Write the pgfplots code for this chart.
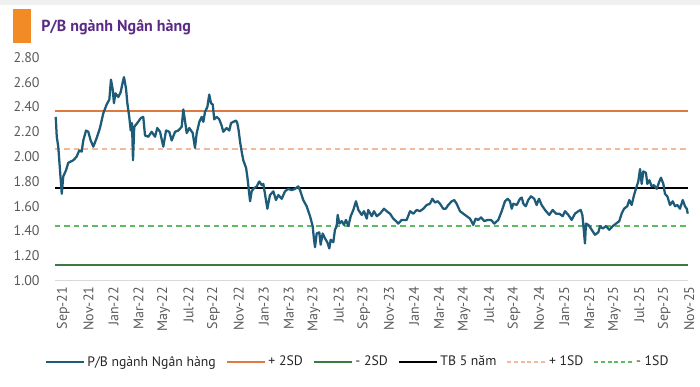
\documentclass[border=0pt]{standalone}
\usepackage{pgfplots}
\pgfplotsset{compat=1.18}
\usepackage{fontspec}
\setmainfont{PT Sans}
\definecolor{series}{HTML}{1D5B79}
\definecolor{ptwo}{HTML}{E0793F}
\definecolor{mtwo}{HTML}{3C7A3F}
\definecolor{pone}{HTML}{F2B99A}
\definecolor{mone}{HTML}{5DBB63}
\definecolor{titlec}{HTML}{5B2A86}
\definecolor{blockc}{HTML}{F28A26}
\definecolor{tickc}{HTML}{595959}
\begin{document}
\begin{tikzpicture}
\useasboundingbox (0,0) rectangle (525pt,289.5pt);
\fill[black!6] (0,285.75pt) rectangle (525pt,289.5pt);
\fill[blockc] (10pt,257.5pt) rectangle (23.25pt,282.5pt);
\node[anchor=base west, inner sep=0pt, text=titlec, font=\fontsize{12}{14}\selectfont\bfseries] at (30.75pt,265.5pt) {P/B ngành Ngân hàng};
\begin{axis}[
  at={(41.25pt,78.975pt)}, anchor=south west,
  width=474.75pt, height=167.55pt, scale only axis,
  xmin=-0.24, xmax=50.32, ymin=1, ymax=2.8,
  xtick={0,2,...,50},
  xticklabels={Sep-21,Nov-21,Jan-22,Mar-22,May-22,Jul-22,Sep-22,Nov-22,Jan-23,Mar-23,May-23,Jul-23,Sep-23,Nov-23,Jan-24,Mar-24,May-24,Jul-24,Sep-24,Nov-24,Jan-25,Mar-25,May-25,Jul-25,Sep-25,Nov-25},
  ytick={1,1.2,...,2.81},
  /pgf/number format/fixed,
  /pgf/number format/fixed zerofill,
  /pgf/number format/precision=2,
  /pgf/number format/assume math mode=true,
  xticklabel style={rotate=90, anchor=east, font=\fontsize{10.5}{12}\selectfont, text=tickc, yshift=-4pt, xshift=-1pt},
  yticklabel style={font=\fontsize{10.5}{12}\selectfont, text=tickc, xshift=-8pt},
  major tick length=0pt,
  separate axis lines,
  axis x line*=bottom, axis y line*=left,
  x axis line style={draw=black!15, line width=0.8pt},
  y axis line style={draw=none},
  legend style={at={(0.478,-0.364)}, anchor=center, legend columns=6, draw=none, fill=none,
    font=\fontsize{10.3}{12}\selectfont, text=black!85,
    nodes={inner sep=1.5pt},
    /tikz/every even column/.append style={column sep=6pt}},
  legend image code/.code={\draw[#1] (0pt,0pt) -- (29pt,0pt);},
  clip=false,
]
\addlegendimage{series, line width=1.5pt}
\addlegendentry{P/B ngành Ngân hàng}
\addlegendimage{ptwo, line width=1.5pt}
\addlegendentry{+ 2SD}
\addlegendimage{mtwo, line width=1.5pt}
\addlegendentry{- 2SD}
\addlegendimage{black, line width=1.5pt}
\addlegendentry{TB 5 năm}
\addlegendimage{pone, line width=1.5pt, dash pattern=on 3pt off 2pt}
\addlegendentry{+ 1SD}
\addlegendimage{mone, line width=1.5pt, dash pattern=on 3pt off 2pt}
\addlegendentry{- 1SD}

\addplot[forget plot, ptwo, line width=1.4pt] coordinates {(-0.24,2.37) (50.32,2.37)};
\addplot[forget plot, mtwo, line width=1.4pt] coordinates {(-0.24,1.13) (50.32,1.13)};
\addplot[forget plot, black, line width=1.4pt] coordinates {(-0.24,1.75) (50.32,1.75)};
\addplot[forget plot, pone, line width=1.4pt, dash pattern=on 4pt off 3pt] coordinates {(-0.24,2.06) (50.32,2.06)};
\addplot[forget plot, mone, line width=1.4pt, dash pattern=on 4pt off 3pt] coordinates {(-0.24,1.44) (50.32,1.44)};

\addplot[forget plot, series, line width=1.7pt, line join=round] coordinates {
(-0.18,2.32) (-0.10,2.16) (0.02,2.08) (0.16,1.89) (0.30,1.70) (0.42,1.84) (0.64,1.89) (0.82,1.95) (1.01,1.96) (1.22,1.97) (1.49,2.00) (1.70,2.05) (1.89,2.04) (2.02,2.13) (2.24,2.21) (2.42,2.20) (2.61,2.13) (2.82,2.08) (3.09,2.15) (3.35,2.23) (3.62,2.35) (3.89,2.42) (4.10,2.46) (4.23,2.62) (4.37,2.54) (4.47,2.43) (4.58,2.51) (4.82,2.48) (5.01,2.52) (5.17,2.60) (5.27,2.64) (5.43,2.55) (5.54,2.43) (5.69,2.32) (5.81,2.21) (5.91,2.27) (5.99,1.97) (6.09,2.24) (6.33,2.27) (6.61,2.31) (6.81,2.32) (6.95,2.17) (7.21,2.16) (7.48,2.20) (7.75,2.16) (7.93,2.23) (8.15,2.20) (8.41,2.08) (8.63,2.21) (8.89,2.20) (9.08,2.13) (9.35,2.20) (9.61,2.21) (9.88,2.24) (10.01,2.38) (10.14,2.29) (10.28,2.19) (10.49,2.23) (10.76,2.19) (10.94,2.07) (11.08,2.19) (11.29,2.28) (11.48,2.32) (11.61,2.28) (11.74,2.36) (11.93,2.40) (12.08,2.50) (12.22,2.43) (12.36,2.42) (12.48,2.30) (12.68,2.32) (12.88,2.30) (13.07,2.25) (13.20,2.20) (13.47,2.23) (13.68,2.21) (13.82,2.27) (14.00,2.28) (14.22,2.29) (14.32,2.27) (14.43,2.21) (14.54,2.12) (14.67,2.04) (14.80,1.97) (15.02,1.91) (15.12,1.84) (15.23,1.74) (15.34,1.64) (15.47,1.72) (15.60,1.74) (15.87,1.76) (16.08,1.80) (16.27,1.77) (16.40,1.78) (16.53,1.70) (16.72,1.58) (16.93,1.69) (17.20,1.72) (17.41,1.65) (17.60,1.69) (17.87,1.66) (18.13,1.72) (18.39,1.74) (18.67,1.73) (18.93,1.74) (19.19,1.76) (19.33,1.73) (19.59,1.65) (19.86,1.60) (20.13,1.52) (20.34,1.44) (20.45,1.33) (20.53,1.27) (20.66,1.38) (20.87,1.39) (20.98,1.29) (21.14,1.38) (21.33,1.34) (21.51,1.31) (21.67,1.26) (21.78,1.33) (21.99,1.31) (22.12,1.41) (22.26,1.44) (22.34,1.53) (22.47,1.46) (22.66,1.48) (22.84,1.45) (23.00,1.49) (23.19,1.44) (23.38,1.52) (23.59,1.57) (23.80,1.64) (23.99,1.57) (24.26,1.53) (24.44,1.56) (24.66,1.50) (24.78,1.57) (25.06,1.52) (25.24,1.56) (25.46,1.52) (25.72,1.54) (26.04,1.58) (26.25,1.56) (26.52,1.54) (26.78,1.50) (27.00,1.48) (27.18,1.46) (27.45,1.49) (27.85,1.49) (28.12,1.56) (28.38,1.54) (28.65,1.57) (28.91,1.56) (29.18,1.58) (29.45,1.61) (29.71,1.62) (29.90,1.66) (30.11,1.63) (30.33,1.64) (30.51,1.62) (30.77,1.58) (30.97,1.58) (31.17,1.61) (31.45,1.64) (31.65,1.65) (31.84,1.62) (32.11,1.56) (32.37,1.54) (32.64,1.52) (32.91,1.50) (33.17,1.45) (33.36,1.50) (33.57,1.49) (33.79,1.51) (34.05,1.48) (34.32,1.49) (34.58,1.49) (34.85,1.46) (35.17,1.49) (35.44,1.56) (35.70,1.64) (35.92,1.66) (36.10,1.64) (36.24,1.58) (36.37,1.62) (36.64,1.61) (36.90,1.66) (37.04,1.67) (37.17,1.62) (37.36,1.60) (37.56,1.65) (37.78,1.68) (38.04,1.66) (38.23,1.61) (38.42,1.66) (38.63,1.61) (38.90,1.57) (39.24,1.53) (39.51,1.57) (39.78,1.54) (40.04,1.54) (40.31,1.52) (40.50,1.56) (40.76,1.53) (41.03,1.49) (41.29,1.54) (41.56,1.56) (41.75,1.57) (41.88,1.53) (41.96,1.45) (42.09,1.30) (42.17,1.46) (42.36,1.45) (42.63,1.41) (42.89,1.37) (43.16,1.39) (43.29,1.44) (43.51,1.42) (43.77,1.44) (44.03,1.41) (44.31,1.44) (44.57,1.46) (44.83,1.48) (45.02,1.54) (45.21,1.58) (45.47,1.60) (45.63,1.65) (45.82,1.61) (46.01,1.69) (46.22,1.76) (46.35,1.80) (46.49,1.90) (46.62,1.78) (46.75,1.88) (46.96,1.87) (47.07,1.78) (47.23,1.81) (47.42,1.76) (47.60,1.77) (47.82,1.74) (48.03,1.80) (48.16,1.83) (48.35,1.78) (48.48,1.70) (48.67,1.68) (48.88,1.61) (49.10,1.64) (49.28,1.60) (49.47,1.61) (49.68,1.58) (49.90,1.65) (50.08,1.60) (50.22,1.58) (50.30,1.54)
};
\end{axis}
\end{tikzpicture}
\end{document}
